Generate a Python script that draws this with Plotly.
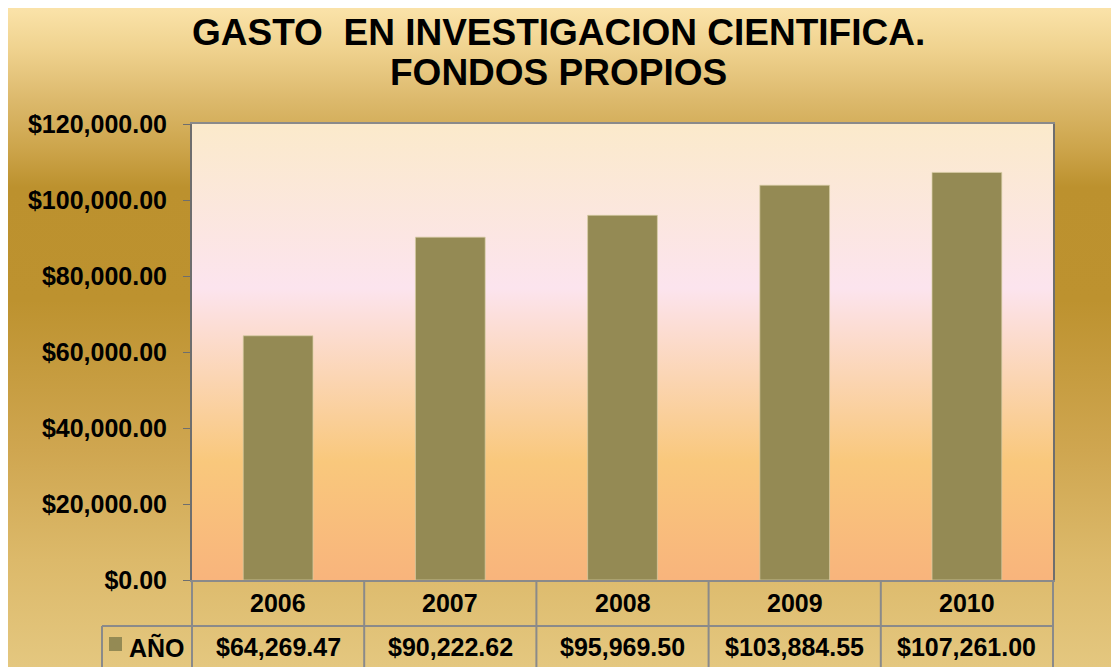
import base64
import plotly.graph_objects as go

# ---- data ----
years = ["2006", "2007", "2008", "2009", "2010"]
values = [64269.47, 90222.62, 95969.50, 103884.55, 107261.00]
series_name = "AÑO"
title_lines = ["GASTO\u00a0\u00a0EN INVESTIGACION CIENTIFICA.", "FONDOS PROPIOS"]

# ---- layout geometry (page pixels; page body has an 8px margin) ----
OFF = 8
W, H = 1119, 667
L, R, T, B = 192 - OFF, 1053 - OFF, 124 - OFF, 580 - OFF  # figure pixels
PW, PH = R - L, B - T


def px_x(px):
    """page x pixel -> paper coordinate"""
    return (px - OFF - L) / PW


def px_y(py):
    """page y pixel -> paper coordinate"""
    return (B - (py - OFF)) / PH


def svg_gradient(stops):
    st = "".join(
        f'<stop offset="{o:.4f}" stop-color="{c}"/>' for o, c in stops
    )
    svg = (
        '<svg xmlns="http://www.w3.org/2000/svg" width="100" height="100" '
        'viewBox="0 0 100 100" preserveAspectRatio="none">'
        f'<defs><linearGradient id="g" x1="0" y1="0" x2="0" y2="1">{st}</linearGradient></defs>'
        '<rect x="0" y="0" width="100" height="100" fill="url(#g)"/></svg>'
    )
    return "data:image/svg+xml;base64," + base64.b64encode(svg.encode()).decode()


page_top, page_bottom = 0, 680
ph = page_bottom - page_top
page_color_rows = [
    (0, "#fae2a8"), (10, "#fae2a8"), (50, "#efd28e"), (100, "#dcb96c"),
    (150, "#cca44a"), (187, "#bc912e"), (300, "#bd922f"), (450, "#cfa650"),
    (560, "#dcb96a"), (680, "#e5c982"),
]
page_stops = [((y - page_top) / ph, c) for y, c in page_color_rows]
plot_stops = [
    (0.0, "#fbeacb"),
    (0.36, "#fce4ee"),
    (0.46, "#fcdcd0"),
    (0.74, "#f9c87c"),
    (1.0, "#f8b47c"),
]

fig = go.Figure()
fig.add_trace(
    go.Bar(
        x=years,
        y=values,
        name=series_name,
        marker=dict(color="#948a54", line=dict(color="rgba(215,205,165,0.7)", width=1)),
        showlegend=False,
    )
)

images = [
    dict(
        source=svg_gradient(page_stops), xref="paper", yref="paper",
        x=px_x(0), y=px_y(page_top),
        sizex=(W + 20) / PW, sizey=ph / PH,
        sizing="stretch", layer="below", xanchor="left", yanchor="top",
    ),
    dict(
        source=svg_gradient(plot_stops), xref="paper", yref="paper",
        x=0, y=1, sizex=1, sizey=1,
        sizing="stretch", layer="below", xanchor="left", yanchor="top",
    ),
]

grid = "#8a8a8a"
row1_bottom = 626
table_bottom = 700
n = len(years)
shapes = []
# horizontal table line between category row and value row
shapes.append(dict(type="line", xref="paper", yref="paper", x0=px_x(102), x1=1,
                   y0=px_y(row1_bottom), y1=px_y(row1_bottom), line=dict(color=grid, width=2)))
# vertical table lines at category boundaries
for i in range(n + 1):
    shapes.append(dict(type="line", xref="paper", yref="paper", x0=i / n, x1=i / n,
                       y0=0, y1=px_y(table_bottom), line=dict(color=grid, width=2)))
shapes.append(dict(type="line", xref="paper", yref="paper", x0=px_x(102), x1=px_x(102),
                   y0=px_y(row1_bottom), y1=px_y(table_bottom), line=dict(color=grid, width=2)))
# legend key
shapes.append(dict(type="rect", xref="paper", yref="paper", x0=px_x(109), x1=px_x(122),
                   y0=px_y(651), y1=px_y(637), fillcolor="#948a54", line=dict(width=0)))

font_fam = "Liberation Sans, Arial, sans-serif"
annotations = []
for i, t in enumerate(title_lines):
    annotations.append(dict(text=f"<b>{t}</b>", xref="paper", yref="paper",
                            x=px_x(558), y=px_y([32, 72][i]), showarrow=False,
                            xanchor="center", yanchor="middle",
                            font=dict(size=37, color="black", family=font_fam)))
for i, (yr, v) in enumerate(zip(years, values)):
    xc = (i + 0.5) / n
    annotations.append(dict(text=f"<b>{yr}</b>", xref="paper", yref="paper", x=xc, y=px_y(603),
                            showarrow=False, xanchor="center", yanchor="middle",
                            font=dict(size=25, color="black", family=font_fam)))
    annotations.append(dict(text=f"<b>${v:,.2f}</b>", xref="paper", yref="paper", x=xc, y=px_y(647),
                            showarrow=False, xanchor="center", yanchor="middle",
                            font=dict(size=25, color="black", family=font_fam)))
annotations.append(dict(text=f"<b>{series_name}</b>", xref="paper", yref="paper", x=px_x(127),
                        y=px_y(647), showarrow=False, xanchor="left", yanchor="middle",
                        font=dict(size=25, color="black", family=font_fam)))

fig.update_layout(
    width=W, height=H,
    margin=dict(l=L, r=W - R, t=T, b=H - B, pad=0),
    paper_bgcolor="white",
    plot_bgcolor="rgba(0,0,0,0)",
    bargap=0.595,
    images=images,
    shapes=shapes,
    annotations=annotations,
    xaxis=dict(type="category", range=[-0.5, n - 0.5], showticklabels=False, ticks="",
               showgrid=False, zeroline=False,
               showline=True, linecolor=grid, linewidth=2, mirror=True),
    yaxis=dict(range=[0, 120000], dtick=20000, tickprefix="$", tickformat=",.2f",
               showgrid=False, zeroline=False, showline=True, linecolor="#6e6e6e",
               linewidth=2, mirror=True, ticks="outside", ticklen=7, tickcolor="#6e6e6e",
               tickwidth=1, ticklabelstandoff=11,
               tickfont=dict(size=25, color="black", family=font_fam, weight="bold")),
    showlegend=False,
)

fig.write_html("out.html")
